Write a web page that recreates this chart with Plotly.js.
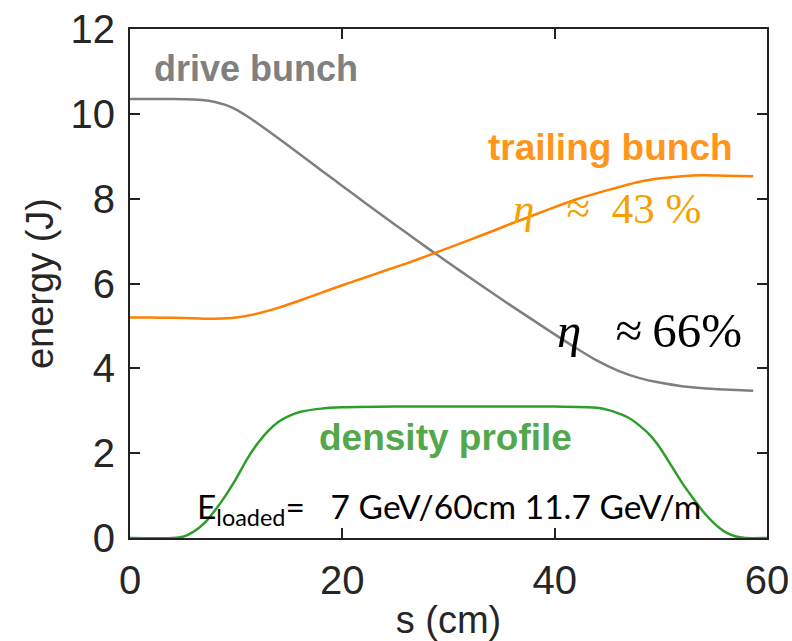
<!DOCTYPE html>
<html>
<head>
<meta charset="utf-8">
<script src="https://cdn.plot.ly/plotly-3.0.1.min.js"></script>
<style>html,body{margin:0;padding:0;background:#fff;}#chart{width:792px;height:641px;}</style>
</head>
<body>
<div id="chart"></div>
<script>
// drive bunch energy (J) vs s (cm)
const driveS = [0, 2, 4, 6, 7, 8, 9, 10, 11, 12, 13, 14, 16, 18, 20, 22, 24, 26, 28, 30, 32, 34, 36, 38, 40, 42, 44, 46, 48, 50, 52, 54, 56, 58.7];
const driveE = [10.35, 10.35, 10.35, 10.34, 10.32, 10.28, 10.21, 10.1, 9.95, 9.78, 9.6, 9.42, 9.05, 8.67, 8.3, 7.93, 7.56, 7.2, 6.84, 6.49, 6.14, 5.8, 5.46, 5.13, 4.8, 4.48, 4.18, 3.94, 3.77, 3.66, 3.58, 3.53, 3.5, 3.47];

// trailing bunch energy (J)
const trailS = [0, 2, 4, 6, 8, 10, 12, 14, 16, 18, 20, 22, 24, 26, 28, 30, 32, 34, 36, 38, 40, 42, 44, 46, 48, 50, 52, 54, 56, 58.7];
const trailE = [5.2, 5.2, 5.19, 5.18, 5.17, 5.2, 5.29, 5.43, 5.6, 5.78, 5.96, 6.13, 6.3, 6.47, 6.65, 6.84, 7.03, 7.22, 7.42, 7.61, 7.8, 7.98, 8.13, 8.27, 8.4, 8.48, 8.53, 8.55, 8.54, 8.53];

// plasma density profile (scaled)
const densS = [0, 4, 5, 6, 7, 8, 9, 10, 11, 12, 13, 14, 15, 16, 18, 20, 25, 30, 35, 40, 44, 45, 46, 47, 48, 49, 50, 51, 52, 53, 54, 55, 56, 57, 58, 60];
const densV = [0, 0, 0.03, 0.15, 0.35, 0.65, 1.0, 1.4, 1.85, 2.22, 2.52, 2.74, 2.88, 2.97, 3.05, 3.08, 3.1, 3.1, 3.1, 3.1, 3.07, 3.02, 2.94, 2.83, 2.65, 2.42, 2.1, 1.7, 1.3, 0.95, 0.62, 0.35, 0.15, 0.04, 0, 0];

const xTicks = [0, 20, 40, 60];
const yTicks = [0, 2, 4, 6, 8, 10, 12];

const labels = {
  drive: 'drive bunch',
  trailing: 'trailing bunch',
  density: 'density profile',
  eta43: '<i>η</i>\u2002\u00a0≈\u00a0\u00a043\u00a0%',
  eta66: '<i>η</i>\u2002\u2009≈\u200966%',
  eload: 'E<sub>loaded</sub>=\u00a0\u00a0\u00a07 GeV/60cm 11.7 GeV/m'
};

const traces = [
  {x: densS, y: densV, mode: 'lines', line: {color: '#2e9e2b', width: 2.5, shape: 'spline', smoothing: 0.6}, hoverinfo: 'skip'},
  {x: driveS, y: driveE, mode: 'lines', line: {color: '#7f7f7f', width: 2.5, shape: 'spline', smoothing: 0.6}, hoverinfo: 'skip'},
  {x: trailS, y: trailE, mode: 'lines', line: {color: '#ff8000', width: 2.5, shape: 'spline', smoothing: 0.6}, hoverinfo: 'skip'}
];

const axisCommon = {
  showgrid: false, zeroline: false, showline: true, linecolor: '#222222', linewidth: 2,
  mirror: 'ticks', ticks: 'inside', ticklen: 10, tickwidth: 2, tickcolor: '#222222',
  tickfont: {family: 'Liberation Sans, Arial, sans-serif', size: 40, color: '#262626'}
};

const layout = {
  width: 792, height: 641,
  margin: {l: 130, r: 25, t: 29, b: 103},
  paper_bgcolor: '#fff', plot_bgcolor: '#fff',
  showlegend: false,
  xaxis: Object.assign({}, axisCommon, {
    range: [0, 60], tickvals: xTicks, ticklabelstandoff: 6,
    title: {text: 's (cm)', font: {family: 'Liberation Sans, Arial, sans-serif', size: 38, color: '#262626'}, standoff: 5}
  }),
  yaxis: Object.assign({}, axisCommon, {
    range: [0, 12], tickvals: yTicks, ticklabelstandoff: 5,
    title: {text: 'energy (J)', font: {family: 'Liberation Sans, Arial, sans-serif', size: 38, color: '#262626'}, standoff: 5}
  }),
  annotations: [
    {x: 2.1, y: 11.08, xref: 'x', yref: 'y', text: '<b>' + labels.drive + '</b>', showarrow: false, xanchor: 'left', yanchor: 'middle',
     font: {family: 'Liberation Sans, Arial, sans-serif', size: 36, color: '#808080'}},
    {x: 57.0, y: 9.2, xref: 'x', yref: 'y', text: '<b>' + labels.trailing + '</b>', showarrow: false, xanchor: 'right', yanchor: 'middle',
     font: {family: 'Liberation Sans, Arial, sans-serif', size: 37, color: '#ff961a'}},
    {x: 35.9, y: 7.76, xref: 'x', yref: 'y', text: labels.eta43, showarrow: false, xanchor: 'left', yanchor: 'middle',
     font: {family: 'Liberation Serif, serif', size: 43, color: '#f5a000'}},
    {x: 40.0, y: 4.9, xref: 'x', yref: 'y', text: labels.eta66, showarrow: false, xanchor: 'left', yanchor: 'middle',
     font: {family: 'Liberation Serif, serif', size: 49, color: '#000000'}},
    {x: 17.6, y: 2.38, xref: 'x', yref: 'y', text: '<b>' + labels.density + '</b>', showarrow: false, xanchor: 'left', yanchor: 'middle',
     font: {family: 'Liberation Sans, Arial, sans-serif', size: 37, color: '#52a84b'}},
    {x: 6.1, y: 0.7, xref: 'x', yref: 'y', text: labels.eload, showarrow: false, xanchor: 'left', yanchor: 'middle',
     font: {family: 'Lato, Noto Sans, sans-serif', size: 33.5, color: '#000000'}}
  ]
};

Plotly.newPlot('chart', traces, layout, {displayModeBar: false, staticPlot: true});
</script>
</body>
</html>
